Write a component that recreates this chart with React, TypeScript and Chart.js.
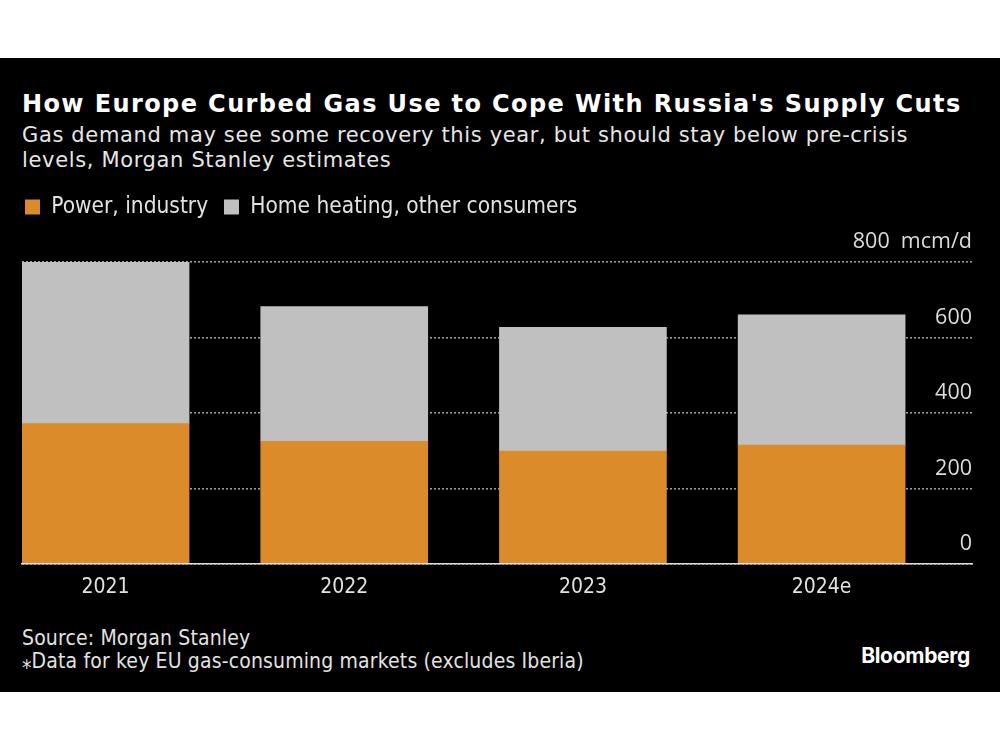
import React, { useEffect, useRef } from "react";
import { Chart, registerables } from "chart.js";

Chart.register(...registerables);

// ---- data ----
const categories = ["2021", "2022", "2023", "2024e"];
const powerIndustry = [372, 325, 299, 315];
const homeHeating = [428, 357, 328, 345];
const yTickValues = [0, 200, 400, 600, 800];
const yUnit = "mcm/d";
const seriesNames = ["Power, industry", "Home heating, other consumers"];

const COND = "'DejaVu Sans Condensed', 'DejaVu Sans', sans-serif";
const WIDE = "'DejaVu Sans', sans-serif";
const SANS = "'Open Sans', 'Noto Sans', sans-serif";

const ORANGE = "#db8b2a";
const GREY = "#c0c0c0";

export default function App() {
  const ref = useRef<HTMLCanvasElement>(null);

  useEffect(() => {
    if (!ref.current) return;
    const legendSpacer = {
      id: "legendSpacer",
      beforeInit(chart: any) {
        const orig = chart.legend.fit;
        chart.legend.fit = function () {
          orig.call(this);
          this.height += 33.75;
        };
      },
    };

    const chart = new Chart(ref.current, {
      type: "bar",
      data: {
        datasets: [
          {
            label: seriesNames[0],
            data: categories.map((_, i) => ({ x: i, y: powerIndustry[i] })),
            backgroundColor: ORANGE,
            barThickness: 167,
            borderWidth: 0,
          },
          {
            label: seriesNames[1],
            data: categories.map((_, i) => ({ x: i, y: homeHeating[i] })),
            backgroundColor: GREY,
            barThickness: 167,
            borderWidth: 0,
          },
        ],
      },
      options: {
        animation: false,
        responsive: true,
        maintainAspectRatio: false,
        layout: { padding: { top: 12.75, left: 22, right: 28, bottom: 12.8 } },
        plugins: {
          tooltip: { enabled: false },
          legend: {
            display: true,
            position: "top",
            align: "start",
            labels: {
              color: "#e2e2e2",
              font: { family: COND, size: 22.5 },
              boxWidth: 15,
              boxHeight: 15,
              padding: 3,
              generateLabels: (c: any) =>
                Chart.defaults.plugins.legend.labels
                  .generateLabels(c)
                  .map((l: any) => ({ ...l, text: l.text + "  " })),
            },
          },
        },
        scales: {
          x: {
            type: "linear",
            stacked: true,
            offset: false,
            min: -0.35,
            max: 3.63,
            afterBuildTicks: (axis: any) => {
              axis.ticks = categories.map((_, i) => ({ value: i }));
            },
            grid: { display: false, drawTicks: false, offset: false },
            border: { display: true, color: "#e0e0e0", width: 1.5, z: 2 },
            ticks: {
              color: "#e2e2e2",
              font: { family: COND, size: 21 },
              padding: 11,
              maxRotation: 0,
              callback: (v: any) => categories[v as number] ?? "",
            },
          },
          y: {
            type: "linear",
            position: "right",
            stacked: true,
            min: 0,
            max: 800,
            afterBuildTicks: (axis: any) => {
              axis.ticks = yTickValues.map((v) => ({ value: v }));
            },
            grid: {
              display: true,
              drawTicks: false,
              color: "#9a9a9a",
              lineWidth: 1.6,
            },
            border: { display: false, dash: [2, 2] },
            ticks: {
              mirror: true,
              padding: 0,
              labelOffset: -20,
              color: "#dcdcdc",
              font: { family: SANS, size: 21.5 },
              callback: (v: any) =>
                v === yTickValues[yTickValues.length - 1] ? `${v}  ${yUnit}` : `${v}`,
            },
          },
        },
      },
      plugins: [legendSpacer],
    } as any);

    return () => chart.destroy();
  }, []);

  return (
    <div
      style={{
        position: "fixed",
        left: 0,
        top: 0,
        width: 1000,
        height: 750,
        background: "#fff",
        overflow: "hidden",
      }}
    >
      <div
        style={{
          position: "absolute",
          left: 0,
          top: 58,
          width: 1000,
          height: 634,
          background: "#000",
        }}
      />
      <div
        style={{
          position: "absolute",
          left: 22,
          top: 92,
          fontFamily: WIDE,
          fontWeight: "bold",
          fontSize: 24,
          lineHeight: "24px",
          letterSpacing: 1.4,
          color: "#fff",
          whiteSpace: "nowrap",
        }}
      >
        How Europe Curbed Gas Use to Cope With Russia's Supply Cuts
      </div>
      <div
        style={{
          position: "absolute",
          left: 22,
          top: 122.5,
          fontFamily: WIDE,
          fontSize: 21,
          lineHeight: "25px",
          letterSpacing: 0.65,
          color: "#e6e6e6",
          whiteSpace: "nowrap",
        }}
      >
        Gas demand may see some recovery this year, but should stay below pre-crisis
        <br />
        levels, Morgan Stanley estimates
      </div>
      <div
        style={{
          position: "absolute",
          left: 0,
          top: 180,
          width: 1000,
          height: 444,
        }}
      >
        <canvas ref={ref} />
      </div>
      <div
        style={{
          position: "absolute",
          left: 22,
          top: 627,
          fontFamily: COND,
          fontSize: 21,
          lineHeight: "23px",
          letterSpacing: 0.15,
          color: "#e2e2e2",
          whiteSpace: "nowrap",
        }}
      >
        Source: Morgan Stanley
        <br />
        {"\u204EData for key EU gas-consuming markets (excludes Iberia)"}
      </div>
      <div
        style={{
          position: "absolute",
          right: 30,
          top: 645,
          fontFamily: "Inter, 'Open Sans', sans-serif",
          fontWeight: "bold",
          fontSize: 21,
          lineHeight: "21px",
          color: "#fff",
          whiteSpace: "nowrap",
          letterSpacing: -0.3,
        }}
      >
        Bloomberg
      </div>
    </div>
  );
}
